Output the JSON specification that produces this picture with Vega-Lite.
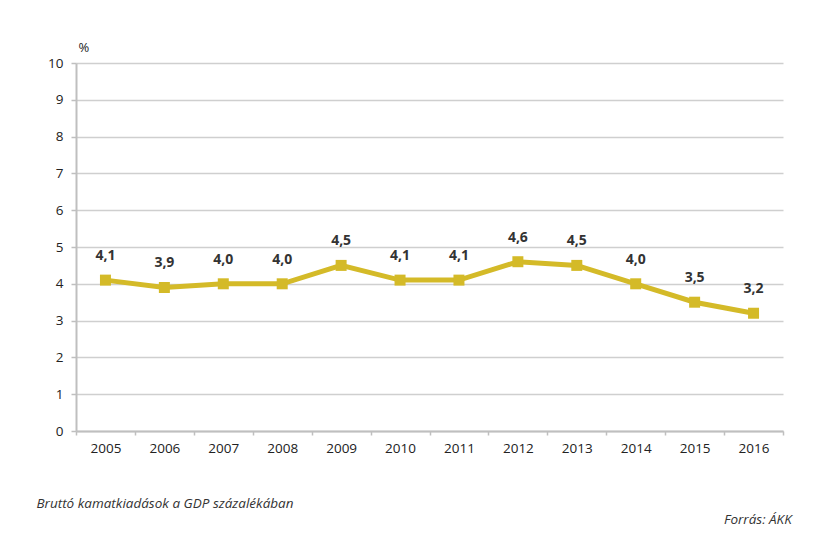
{
  "$schema": "https://vega.github.io/schema/vega-lite/v6.json",
  "width": 707,
  "height": 368,
  "padding": {"left": 36, "top": 41, "right": 10, "bottom": 10},
  "background": "white",
  "config": {
    "locale": {"number": {"decimal": ",", "thousands": " ", "grouping": [3], "currency": ["", " Ft"]}},
    "view": {"stroke": null},
    "font": "Open Sans"
  },
  "title": {
    "text": "Forrás: ÁKK",
    "orient": "bottom",
    "anchor": "end",
    "fontSize": 13.5,
    "fontWeight": "normal",
    "fontStyle": "italic",
    "color": "#333333",
    "offset": 3,
    "dx": 8
  },
  "data": {
    "values": [
      {"year": "2005", "value": 4.1},
      {"year": "2006", "value": 3.9},
      {"year": "2007", "value": 4.0},
      {"year": "2008", "value": 4.0},
      {"year": "2009", "value": 4.5},
      {"year": "2010", "value": 4.1},
      {"year": "2011", "value": 4.1},
      {"year": "2012", "value": 4.6},
      {"year": "2013", "value": 4.5},
      {"year": "2014", "value": 4.0},
      {"year": "2015", "value": 3.5},
      {"year": "2016", "value": 3.2}
    ]
  },
  "encoding": {
    "x": {
      "field": "year",
      "type": "ordinal",
      "scale": {"type": "band", "paddingInner": 0, "paddingOuter": 0},
      "axis": {
        "title": "Bruttó kamatkiadások a GDP százalékában",
        "titleFontStyle": "italic",
        "titleFontWeight": "normal",
        "titleFontSize": 13.5,
        "titleColor": "#333333",
        "titleAnchor": "start",
        "titleAlign": "left",
        "titleBaseline": "middle",
        "titleX": -40,
        "titleY": 72,
        "labelAngle": 0,
        "labelFontSize": 13.5,
        "labelColor": "#222222",
        "labelPadding": 6,
        "tickBand": "extent",
        "tickColor": "#bfbfbf",
        "tickSize": 4,
        "tickWidth": 1.5,
        "domainColor": "#bfbfbf",
        "domainWidth": 2,
        "grid": false
      }
    },
    "y": {
      "field": "value",
      "type": "quantitative",
      "scale": {"domain": [0, 10]},
      "axis": {
        "title": "%",
        "titleAngle": 0,
        "titleAlign": "left",
        "titleBaseline": "middle",
        "titleX": 2,
        "titleY": -16,
        "titleFontSize": 13,
        "titleFontWeight": "normal",
        "titleColor": "#222222",
        "values": [0, 1, 2, 3, 4, 5, 6, 7, 8, 9, 10],
        "format": "d",
        "labelFontSize": 13.5,
        "labelColor": "#222222",
        "labelPadding": 8,
        "tickColor": "#bfbfbf",
        "tickSize": 5,
        "tickWidth": 1.5,
        "domainColor": "#bfbfbf",
        "domainWidth": 2,
        "gridColor": "#cfcfcf",
        "gridWidth": 1.5
      }
    }
  },
  "layer": [
    {
      "mark": {"type": "line", "color": "#d4ba28", "strokeWidth": 5},
      "encoding": {}
    },
    {
      "mark": {"type": "square", "color": "#d4ba28", "filled": true, "opacity": 1, "size": 121},
      "encoding": {}
    },
    {
      "mark": {"type": "text", "dy": -24, "fontSize": 14, "fontWeight": "bold", "color": "#333333", "baseline": "middle"},
      "encoding": {"text": {"field": "value", "type": "quantitative", "format": ".1f"}}
    }
  ]
}
